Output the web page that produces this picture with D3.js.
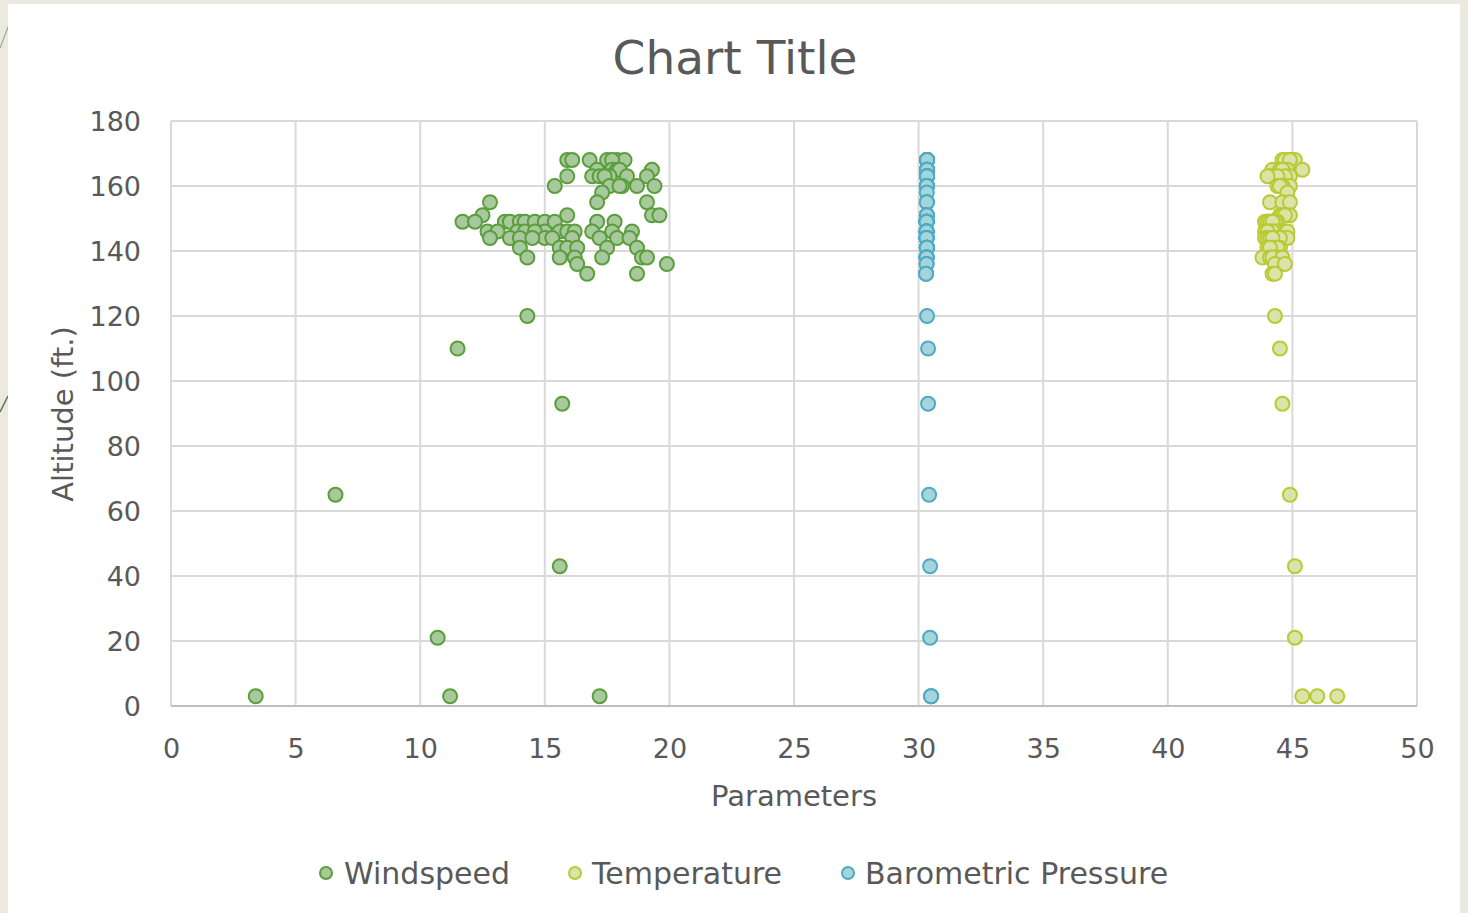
<!DOCTYPE html>
<html><head><meta charset="utf-8">
<script src="https://cdn.jsdelivr.net/npm/d3@7"></script>
<style>
html,body{margin:0;padding:0;background:#ece9e0;}
svg{display:block;}
</style></head>
<body>
<svg id="chart" width="1468" height="913"></svg>
<script>
// ---- data ----
const altitude = [
  3,3,3,21,43,65,93,110,120,
  168,168,168,168,168,168,168,
  165,165,165,165,165,
  163,163,163,163,163,163,163,
  160,160,160,160,160,160,
  158,
  155,155,155,
  151,151,151,151,
  149,149,149,149,149,149,149,149,149,149,149,
  146,146,146,146,146,146,146,146,146,146,146,146,
  144,144,144,144,144,144,144,144,144,144,
  141,141,141,141,141,141,
  138,138,138,138,138,138,
  136,136,
  133,133
];
const windspeed = [
  3.4,11.2,17.2,10.7,15.6,6.6,15.7,11.5,14.3,
  15.9,16.1,16.8,17.5,17.9,18.2,17.7,
  17.1,17.7,17.9,19.3,18.0,
  15.9,16.9,17.2,17.6,18.3,19.1,17.4,
  15.4,17.6,18.1,18.7,19.4,18.0,
  17.3,
  12.8,17.1,19.1,
  12.5,15.9,19.3,19.6,
  11.7,12.2,13.4,13.6,14.0,14.2,14.6,15.0,15.4,17.1,17.8,
  12.7,13.1,13.9,14.2,15.0,15.6,15.9,16.2,16.9,17.7,18.5,14.6,
  12.8,13.6,14.0,15.0,15.3,16.1,17.2,17.9,18.4,14.5,
  14.0,15.6,15.9,16.3,17.5,18.7,
  14.3,15.6,16.2,17.3,18.9,19.1,
  16.3,19.9,
  16.7,18.7
];
const temperature = [
  45.4,46.0,46.8,45.1,45.1,44.9,44.6,44.5,44.3,
  44.6,44.8,44.9,45.0,44.7,45.1,44.9,
  44.2,44.5,45.4,44.8,44.6,
  44.1,44.3,44.9,44.2,44.7,44.4,44.0,
  44.5,44.4,44.7,44.9,44.6,44.5,
  44.8,
  44.1,44.6,44.9,
  44.5,44.9,44.6,44.7,
  43.9,44.0,44.2,44.1,44.3,44.0,44.2,44.4,44.1,44.3,44.2,
  43.9,44.0,44.1,44.3,44.2,44.5,44.6,44.4,44.7,44.8,44.2,44.0,
  43.9,44.0,44.2,44.4,44.6,44.8,44.3,44.1,44.5,44.2,
  44.0,44.3,44.5,44.2,44.4,44.1,
  43.8,44.1,44.3,44.5,44.2,44.6,
  44.3,44.7,
  44.2,44.3
];
const pressure = [
  30.50,30.50,30.50,30.46,30.46,30.42,30.38,30.38,30.34,
  30.34,30.34,30.34,30.34,30.34,30.34,30.34,
  30.34,30.34,30.34,30.34,30.34,
  30.34,30.34,30.34,30.34,30.34,30.34,30.34,
  30.33,30.33,30.33,30.33,30.33,30.33,
  30.33,
  30.33,30.33,30.33,
  30.33,30.33,30.33,30.33,
  30.32,30.32,30.32,30.32,30.32,30.32,30.32,30.32,30.32,30.32,30.32,
  30.32,30.32,30.32,30.32,30.32,30.32,30.32,30.32,30.32,30.32,30.32,30.32,
  30.32,30.32,30.32,30.32,30.32,30.32,30.32,30.32,30.32,30.32,
  30.33,30.33,30.33,30.33,30.33,30.33,
  30.32,30.32,30.32,30.32,30.32,30.32,
  30.32,30.32,
  30.30,30.30
];
const seriesNames = ["Windspeed","Temperature","Barometric Pressure"];
const xTicks = [0,5,10,15,20,25,30,35,40,45,50];
const yTicks = [0,20,40,60,80,100,120,140,160,180];
const chartTitle = "Chart Title";
const xTitle = "Parameters";
const yTitle = "Altitude (ft.)";

// ---- styles ----
const styles = {
  "Windspeed": {fill:"#a8c89e", stroke:"#5b9e3c"},
  "Temperature": {fill:"#d9e4a9", stroke:"#bac934"},
  "Barometric Pressure": {fill:"#a6d4dc", stroke:"#4bacc4"}
};
const font = "'DejaVu Sans', sans-serif";
const textColor = "#595959";

const svg = d3.select("#chart");
// decorative background
svg.append("line").attr("x1",0).attr("y1",48).attr("x2",10).attr("y2",22).attr("stroke","#8a9a80").attr("stroke-width",1);
svg.append("line").attr("x1",0).attr("y1",412).attr("x2",8).attr("y2",396).attr("stroke","#5a7a50").attr("stroke-width",1.5);
svg.append("rect").attr("x",8).attr("y",4).attr("width",1452).attr("height",909).attr("fill","#ffffff");

const margin = {left:171, top:121, right:1417, bottom:706};
const x = d3.scaleLinear().domain([0,50]).range([margin.left, margin.right]);
const y = d3.scaleLinear().domain([0,180]).range([margin.bottom, margin.top]);

// gridlines
const g = svg.append("g");
g.selectAll(".vg").data(xTicks).enter().append("line")
  .attr("x1",d=>x(d)).attr("x2",d=>x(d)).attr("y1",y(180)).attr("y2",y(0))
  .attr("stroke","#d9d9d9").attr("stroke-width",2);
g.selectAll(".hg").data(yTicks.filter(d=>d>0)).enter().append("line")
  .attr("x1",x(0)).attr("x2",x(50)).attr("y1",d=>y(d)).attr("y2",d=>y(d))
  .attr("stroke","#d9d9d9").attr("stroke-width",2);
// x axis line
g.append("line").attr("x1",x(0)).attr("x2",x(50)).attr("y1",y(0)).attr("y2",y(0))
  .attr("stroke","#bfbfbf").attr("stroke-width",2);

// axes tick labels via d3 axes
const xAxis = d3.axisBottom(x).tickValues(xTicks).tickSize(0).tickPadding(43);
const xg = svg.append("g").attr("transform",`translate(0,${y(0)})`).call(xAxis);
xg.select(".domain").remove();
xg.selectAll("text").attr("font-family",font).attr("font-size",27).attr("fill",textColor).attr("dy","0.32em");

const yAxis = d3.axisLeft(y).tickValues(yTicks).tickSize(0).tickPadding(30);
const yg = svg.append("g").attr("transform",`translate(${x(0)},0)`).call(yAxis);
yg.select(".domain").remove();
yg.selectAll("text").attr("font-family",font).attr("font-size",27).attr("fill",textColor).attr("dy","0.36em");

// titles
svg.append("text").attr("x",735).attr("y",74).attr("text-anchor","middle")
  .attr("font-family",font).attr("font-size",47).attr("fill",textColor).text(chartTitle);
svg.append("text").attr("x",794).attr("y",806).attr("text-anchor","middle")
  .attr("font-family",font).attr("font-size",29).attr("fill",textColor).text(xTitle);
svg.append("text").attr("transform","translate(73,414) rotate(-90)").attr("text-anchor","middle")
  .attr("font-family",font).attr("font-size",29).attr("fill",textColor).text(yTitle);

// points
const seriesX = {"Windspeed":windspeed,"Temperature":temperature,"Barometric Pressure":pressure};
seriesNames.forEach(name=>{
  const vals = seriesX[name];
  const pts = altitude.map((a,i)=>({a, v:vals[i]}));
  svg.append("g").selectAll("circle").data(pts).enter().append("circle")
    .attr("cx",d=>x(d.v)).attr("cy",d=>y(d.a)).attr("r",7)
    .attr("fill",styles[name].fill).attr("stroke",styles[name].stroke).attr("stroke-width",2);
});

// legend
const legendPos = [{cx:326, tx:344},{cx:575, tx:592},{cx:848, tx:865}];
seriesNames.forEach((name,i)=>{
  svg.append("circle").attr("cx",legendPos[i].cx).attr("cy",873).attr("r",6)
    .attr("fill",styles[name].fill).attr("stroke",styles[name].stroke).attr("stroke-width",2);
  svg.append("text").attr("x",legendPos[i].tx).attr("y",884)
    .attr("font-family",font).attr("font-size",30).attr("fill",textColor).text(name);
});
</script>
</body></html>
